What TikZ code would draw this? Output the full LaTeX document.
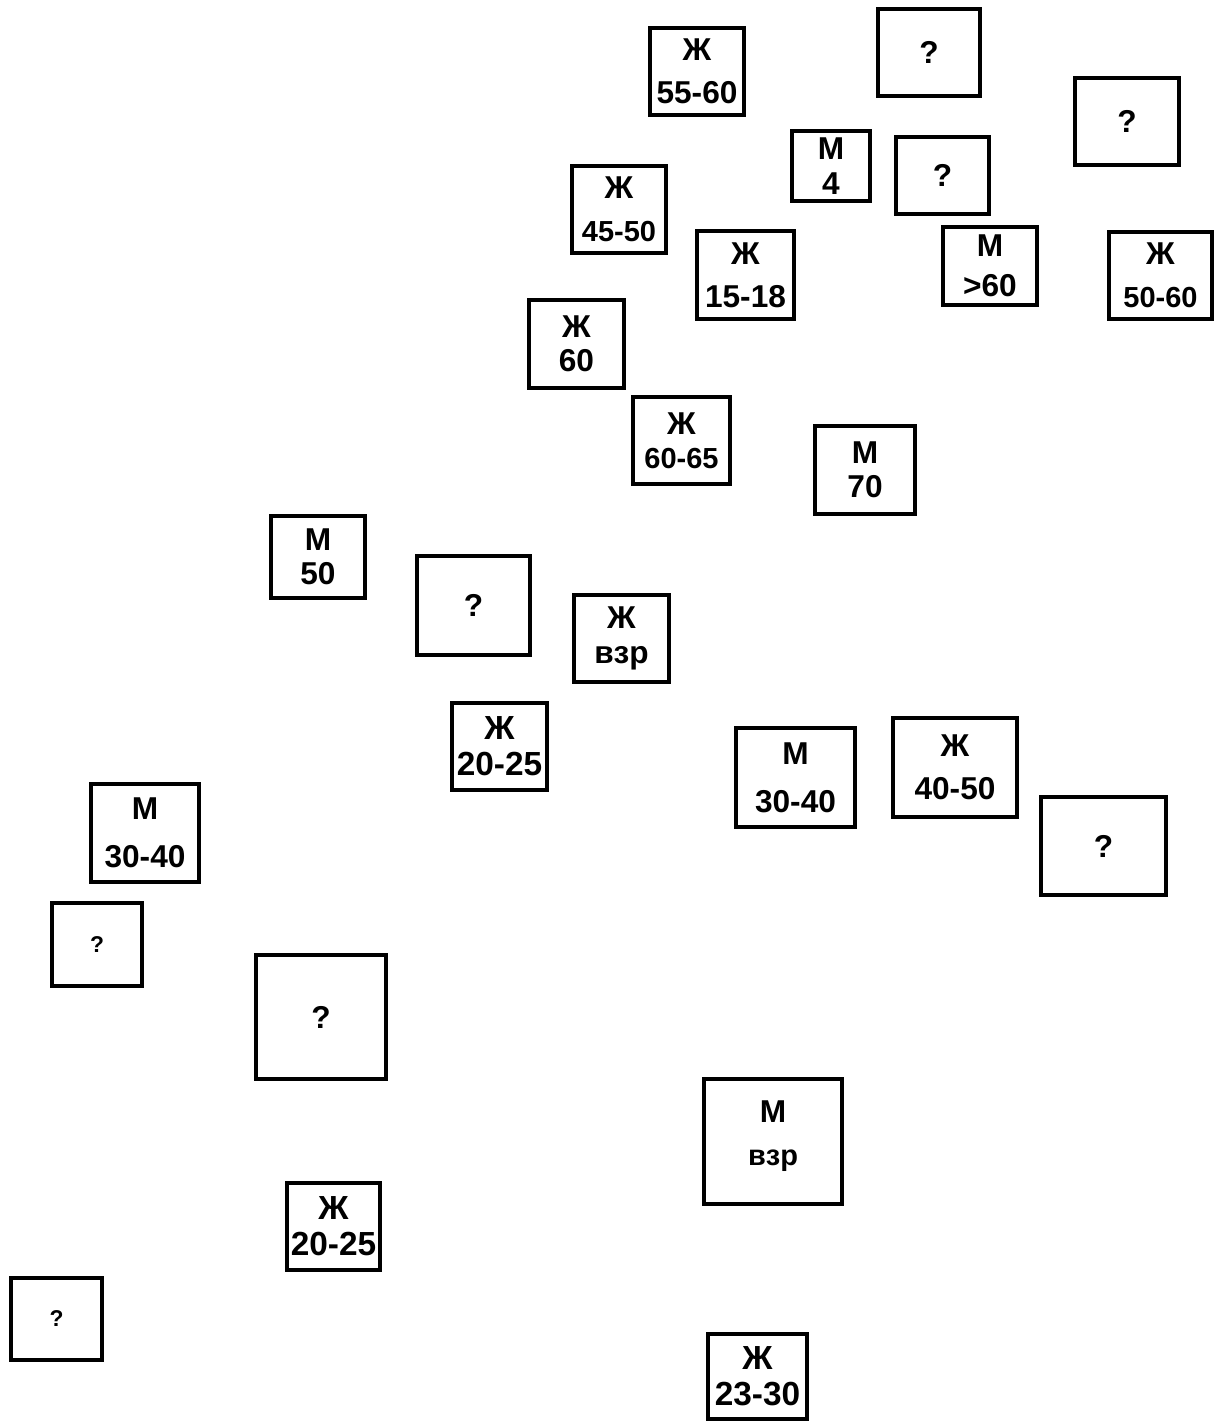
\documentclass[tikz,border=0pt]{standalone}
\usepackage{fontspec}
\setmainfont{Liberation Sans}
\newcommand{\cardfont}{\fontsize{18}{19.5}\selectfont\bfseries}
\newcommand{\midcard}{\fontsize{16.5}{19}\selectfont\bfseries}
\newcommand{\smallcard}{\fontsize{13}{16}\selectfont\bfseries}
\tikzset{card/.style 2 args={draw, line width=2pt, inner sep=0pt, minimum width=#1*0.02cm, minimum height=#2*0.02cm, align=center, font=\cardfont}}
\begin{document}
\begin{tikzpicture}[x=0.02cm,y=-0.02cm]
\useasboundingbox (0,0) rectangle (1220,1421);
\node[card={94}{87}] (zh5560) at (697,71.5) {Ж\\[5pt]55-60};
\node[card={102}{87}] (qa) at (929,52.5) {?};
\node[card={104}{87}] (qb) at (1127,121.5) {?};
\node[card={78}{70}] (m4) at (831,166) {М\\4};
\node[card={93}{77}] (qc) at (942.5,175.5) {?};
\node[card={94}{87}] (zh4550) at (619,209.5) {Ж\\[5pt]{\midcard 45-50}};
\node[card={97}{88}] (zh1518) at (745.5,275) {Ж\\[5pt]15-18};
\node[card={94}{78}] (m60plus) at (990,266) {М\\[3pt]>60};
\node[card={103}{87}] (zh5060) at (1160.5,275.5) {Ж\\[5pt]{\midcard 50-60}};
\node[card={95}{88}] (zh60) at (576.5,344) {Ж\\60};
\node[card={97}{87}] (zh6065) at (681.5,440.5) {Ж\\{\midcard 60-65}};
\node[card={100}{88}] (m70) at (865,470) {М\\70};
\node[card={94}{82}] (m50) at (318,557) {М\\50};
\node[card={113}{99}] (qd) at (473.5,605.5) {?};
\node[card={95}{87}] (zhvzr) at (621.5,638.5) {Ж\\взр};
\node[card={95}{87},font=\fontsize{19}{19.5}\selectfont\bfseries] (zh2025a) at (499.5,746.5) {Ж\\[1pt]20-25};
\node[card={119}{99}] (m3040a) at (795.5,777.5) {М\\[8pt]30-40};
\node[card={124}{99}] (zh4050) at (955,767.5) {Ж\\[5pt]40-50};
\node[card={125}{98}] (qe) at (1103.5,846) {?};
\node[card={108}{98}] (m3040b) at (145,833) {М\\[8pt]30-40};
\node[card={90}{83},font=\smallcard] (qf) at (97,944.5) {?};
\node[card={130}{124}] (qg) at (321,1017) {?};
\node[card={138}{125}] (mvzr) at (773,1141.5) {М\\[5pt]{\midcard взр}\\[-10pt]\mbox{}};
\node[card={93}{87},font=\fontsize{19}{19.5}\selectfont\bfseries] (zh2025b) at (333.5,1226.5) {Ж\\[1pt]20-25};
\node[card={91}{82},font=\smallcard] (qh) at (56.5,1319) {?};
\node[card={99}{85},font=\fontsize{19}{19.5}\selectfont\bfseries] (zh2330) at (757.5,1376.5) {Ж\\[1pt]23-30};
\end{tikzpicture}
\end{document}
